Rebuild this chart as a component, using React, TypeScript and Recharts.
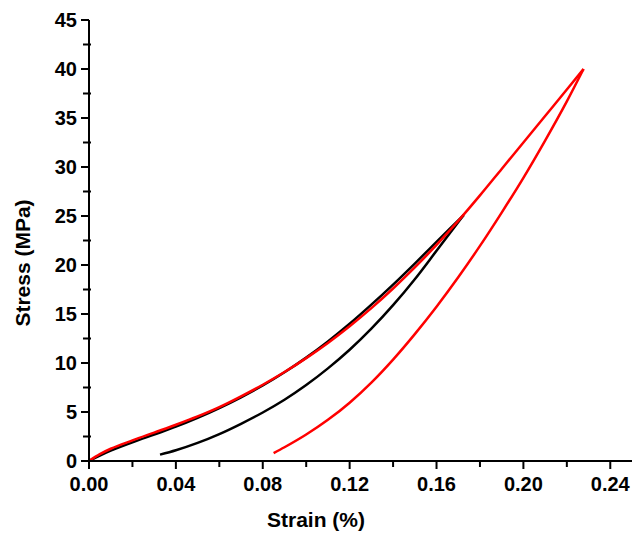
import React from 'react';
import { LineChart, Line, XAxis, YAxis, Label } from 'recharts';

// Black cycle (loading to ~25 MPa, then unloading)
const blackLoadStrain = [0, 0.005, 0.01, 0.02, 0.03, 0.04, 0.05, 0.06, 0.07, 0.08, 0.09, 0.10, 0.11, 0.12, 0.13, 0.14, 0.15, 0.16, 0.1725];
const blackLoadStress = [0, 0.55, 1.05, 1.9, 2.7, 3.5, 4.4, 5.4, 6.5, 7.7, 9.05, 10.55, 12.2, 14.0, 15.95, 18.0, 20.15, 22.35, 25.1];
const blackUnloadStrain = [0.0327, 0.04, 0.05, 0.06, 0.07, 0.08, 0.09, 0.10, 0.11, 0.12, 0.13, 0.14, 0.15, 0.16, 0.1725];
const blackUnloadStress = [0.65, 1.1, 1.85, 2.75, 3.8, 4.95, 6.25, 7.75, 9.45, 11.35, 13.5, 15.9, 18.55, 21.45, 25.1];

// Red cycle (loading to ~40 MPa, then unloading)
const redLoadStrain = [0, 0.005, 0.01, 0.02, 0.03, 0.04, 0.05, 0.06, 0.07, 0.08, 0.09, 0.10, 0.11, 0.12, 0.13, 0.14, 0.15, 0.16, 0.17, 0.18, 0.19, 0.20, 0.21, 0.22, 0.2277];
const redLoadStress = [0, 0.7, 1.25, 2.1, 2.9, 3.7, 4.55, 5.5, 6.6, 7.78, 9.08, 10.5, 12.05, 13.75, 15.6, 17.6, 19.75, 22.05, 24.5, 27.1, 29.8, 32.5, 35.2, 37.9, 40.0];
const redUnloadStrain = [0.085, 0.09, 0.10, 0.11, 0.12, 0.13, 0.14, 0.15, 0.16, 0.17, 0.18, 0.19, 0.20, 0.21, 0.22, 0.2277];
const redUnloadStress = [0.8, 1.4, 2.7, 4.2, 5.95, 8.0, 10.35, 12.95, 15.75, 18.75, 21.95, 25.35, 28.9, 32.7, 36.7, 40.0];

const xTicks = [0, 0.02, 0.04, 0.06, 0.08, 0.10, 0.12, 0.14, 0.16, 0.18, 0.20, 0.22, 0.24];
const xMajorLabels = ['0.00', '0.04', '0.08', '0.12', '0.16', '0.20', '0.24'];
const yTicks = [0, 2.5, 5, 7.5, 10, 12.5, 15, 17.5, 20, 22.5, 25, 27.5, 30, 32.5, 35, 37.5, 40, 42.5, 45];
const frameTicks = [0, 1, 2, 3, 4, 5, 6, 7, 8, 9, 10];

const zip = (xs: number[], ys: number[]) => xs.map((x, i) => ({ x, y: ys[i] }));
const blackLoad = zip(blackLoadStrain, blackLoadStress);
const blackUnload = zip(blackUnloadStrain, blackUnloadStress);
const redLoad = zip(redLoadStrain, redLoadStress);
const redUnload = zip(redUnloadStrain, redUnloadStress);

const FONT = '"Liberation Sans", Arial, sans-serif';

const XTick = (props: any) => {
  const { x, y, payload } = props;
  const v = payload.value;
  const idx = Math.round(v / 0.02);
  const major = idx % 2 === 0;
  return (
    <g>
      <line x1={x} x2={x} y1={major ? y : y - 1} y2={major ? y + 8 : y + 6} stroke="#000" strokeWidth={2} />
      {major && (
        <text x={x} y={y + 29.5} textAnchor="middle" fontFamily={FONT} fontWeight="bold" fontSize={20} fill="#000">
          {xMajorLabels[idx / 2]}
        </text>
      )}
    </g>
  );
};

const YTick = (props: any) => {
  const { x, y, payload } = props;
  const v = payload.value;
  const major = Math.abs(v % 5) < 1e-6;
  return (
    <g>
      <line x1={major ? x - 8 : x - 6} x2={major ? x : x + 2} y1={y} y2={y} stroke="#000" strokeWidth={2} />
      {major && (
        <text x={x - 12} y={y + 7.2} textAnchor="end" fontFamily={FONT} fontWeight="bold" fontSize={20} fill="#000">
          {String(v)}
        </text>
      )}
    </g>
  );
};

const TopTick = (props: any) => {
  const { x, y } = props;
  return <line x1={x} x2={x} y1={y - 2} y2={y + 2} stroke="#000" strokeWidth={1.5} />;
};

const RightTick = (props: any) => {
  const { x, y } = props;
  return <line x1={x - 2} x2={x + 2} y1={y} y2={y} stroke="#000" strokeWidth={1.5} />;
};

export default function App() {
  return (
    <LineChart width={634} height={526} margin={{ top: 12, right: 10, left: 10, bottom: 13 }}>
      <XAxis
        type="number"
        dataKey="x"
        domain={[0, 0.25]}
        ticks={xTicks}
        interval={0}
        tickSize={0}
        tickMargin={0}
        tickLine={false}
        tick={<XTick />}
        height={60}
        axisLine={{ stroke: '#000', strokeWidth: 2 }}
        allowDataOverflow
      >
        <Label
          content={() => (
            <text x={308} y={519} textAnchor="middle" fontFamily={FONT} fontWeight="bold" fontSize={21} fill="#000">
              Strain (%)
            </text>
          )}
        />
      </XAxis>
      <XAxis
        xAxisId="top"
        orientation="top"
        type="number"
        domain={[0, 10]}
        ticks={frameTicks}
        interval={0}
        tickSize={0}
        tickMargin={0}
        tickLine={false}
        tick={<TopTick />}
        height={0}
        axisLine={{ stroke: '#000', strokeWidth: 2 }}
      />
      <YAxis
        type="number"
        domain={[0, 45]}
        ticks={yTicks}
        interval={0}
        tickSize={0}
        tickMargin={0}
        tickLine={false}
        tick={<YTick />}
        width={71}
        axisLine={{ stroke: '#000', strokeWidth: 2 }}
        allowDataOverflow
      >
        <Label
          content={() => (
            <text
              x={22}
              y={255}
              textAnchor="middle"
              transform="rotate(-90, 22, 255)"
              fontFamily={FONT}
              fontWeight="bold"
              fontSize={21}
              fill="#000"
            >
              Stress (MPa)
            </text>
          )}
        />
      </YAxis>
      <YAxis
        yAxisId="right"
        orientation="right"
        type="number"
        domain={[0, 10]}
        ticks={frameTicks}
        interval={0}
        tickSize={0}
        tickMargin={0}
        tickLine={false}
        tick={<RightTick />}
        width={0}
        axisLine={{ stroke: '#000', strokeWidth: 2 }}
      />
      <Line data={blackLoad} dataKey="y" type="monotone" stroke="#000000" strokeWidth={2.5} dot={false} isAnimationActive={false} />
      <Line data={blackUnload} dataKey="y" type="monotone" stroke="#000000" strokeWidth={2.5} dot={false} isAnimationActive={false} />
      <Line data={redLoad} dataKey="y" type="monotone" stroke="#ff0000" strokeWidth={2.5} dot={false} isAnimationActive={false} />
      <Line data={redUnload} dataKey="y" type="monotone" stroke="#ff0000" strokeWidth={2.5} dot={false} isAnimationActive={false} />
    </LineChart>
  );
}
